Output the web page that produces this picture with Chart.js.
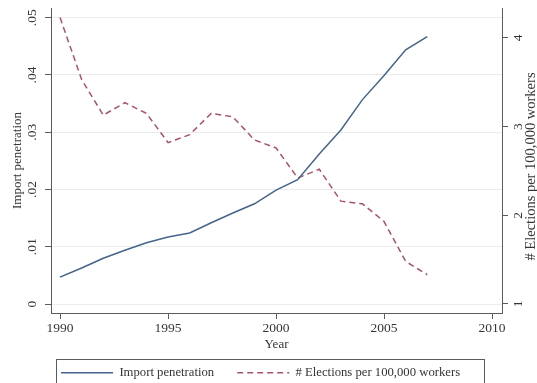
<!DOCTYPE html>
<html>
<head>
<meta charset="utf-8">
<script src="https://cdn.jsdelivr.net/npm/chart.js@4/dist/chart.umd.min.js"></script>
<style>
  html, body { margin: 0; padding: 0; background: #ffffff; }
  canvas { display: block; }
</style>
</head>
<body>
<canvas id="chart" width="537" height="383" style="width:537px;height:383px"></canvas>
<script>
// Annual series, 1990-2007
const years = [1990, 1991, 1992, 1993, 1994, 1995, 1996, 1997, 1998, 1999,
               2000, 2001, 2002, 2003, 2004, 2005, 2006, 2007];
const importPenetration = [0.0047, 0.0063, 0.0080, 0.0094, 0.0107, 0.0117, 0.0124, 0.0142, 0.0159,
                           0.0175, 0.0199, 0.0217, 0.0262, 0.0304, 0.0357, 0.0399, 0.0444, 0.0467];
const electionsPer100k = [4.23, 3.53, 3.13, 3.27, 3.15, 2.82, 2.91, 3.15, 3.11,
                          2.85, 2.76, 2.42, 2.52, 2.16, 2.13, 1.93, 1.48, 1.33];

// Axis ticks
const yearTicks = [1990, 1995, 2000, 2005, 2010];
const importTicks = [0, 0.01, 0.02, 0.03, 0.04, 0.05];
const electionTicks = [1, 2, 3, 4];

const SERIF = "'Liberation Serif', 'DejaVu Serif', serif";
const AXIS = '#5c5c5c';
const TEXT = '#353535';
const BLUE = '#44648a';
const RED = '#a85467';

const toPoints = (vals) => years.map((yr, i) => ({ x: yr, y: vals[i] }));
const fixedTicks = (list) => (scale) => { scale.ticks = list.map(v => ({ value: v })); };
// fixed box size, no extra room reserved for edge labels
const fixSize = (dim, size) => (s) => {
  s[dim] = size;
  s.paddingTop = 0; s.paddingBottom = 0; s.paddingLeft = 0; s.paddingRight = 0;
};

// Right-hand axis title, reading bottom to top
const rightTitle = {
  id: 'rightTitle',
  afterDraw(chart) {
    const { ctx, chartArea } = chart;
    ctx.save();
    ctx.translate(531, (chartArea.top + chartArea.bottom) / 2 + 6);
    ctx.rotate(-Math.PI / 2);
    ctx.font = `14.5px ${SERIF}`;
    ctx.fillStyle = TEXT;
    ctx.textAlign = 'center';
    ctx.textBaseline = 'middle';
    ctx.fillText('# Elections per 100,000 workers', 0, 0);
    ctx.restore();
  }
};

// Frame around the legend entries
const legendFrame = {
  id: 'legendFrame',
  afterDraw(chart) {
    const lg = chart.legend;
    if (!lg || !lg.legendHitBoxes || !lg.legendHitBoxes.length) return;
    const left = Math.round(lg.legendHitBoxes[0].left - 5) + 0.5;
    const top = Math.round(lg.top - 3) + 0.5;
    const ctx = chart.ctx;
    ctx.save();
    ctx.strokeStyle = AXIS;
    ctx.lineWidth = 1;
    ctx.strokeRect(left, top, 428, 40);
    ctx.restore();
  }
};

new Chart(document.getElementById('chart'), {
  type: 'line',
  data: {
    datasets: [
      {
        label: 'Import penetration',
        data: toPoints(importPenetration),
        yAxisID: 'y',
        borderColor: BLUE,
        backgroundColor: BLUE,
        borderWidth: 1.5,
        pointRadius: 0,
        tension: 0
      },
      {
        label: '# Elections per 100,000 workers',
        data: toPoints(electionsPer100k),
        yAxisID: 'y2',
        borderColor: RED,
        backgroundColor: RED,
        borderWidth: 1.5,
        borderDash: [6, 4],
        pointRadius: 0,
        tension: 0
      }
    ]
  },
  options: {
    responsive: false,
    animation: false,
    devicePixelRatio: 1,
    layout: { padding: { top: 8, left: 0, right: 0, bottom: -6 } },
    scales: {
      x: {
        type: 'linear',
        min: 1989.58,
        max: 2010.46,
        afterBuildTicks: fixedTicks(yearTicks),
        afterFit: fixSize('height', 49.3),
        grid: { drawOnChartArea: false, drawTicks: true, tickLength: 6, tickColor: AXIS },
        border: { display: true, color: AXIS, width: 1 },
        ticks: {
          color: TEXT,
          font: { family: SERIF, size: 13.5 },
          padding: 1.5,
          maxRotation: 0,
          callback: (v) => String(v)
        },
        title: {
          display: true,
          text: 'Year',
          color: TEXT,
          font: { family: SERIF, size: 13 },
          padding: { top: 0, bottom: 10 }
        }
      },
      y: {
        position: 'left',
        min: -0.00157,
        max: 0.0517,
        afterBuildTicks: fixedTicks(importTicks),
        afterFit: fixSize('width', 51),
        grid: { color: '#ebebeb', lineWidth: 1, drawTicks: true, tickLength: 6, tickColor: AXIS },
        border: { display: true, color: AXIS, width: 1 },
        ticks: {
          color: TEXT,
          font: { family: SERIF, size: 13.5 },
          minRotation: 90,
          maxRotation: 90,
          crossAlign: 'center',
          padding: 4,
          callback: (v) => v === 0 ? '0' : String(+v.toFixed(2)).replace(/^0/, '')
        },
        title: {
          display: true,
          text: 'Import penetration',
          color: TEXT,
          font: { family: SERIF, size: 13 },
          padding: 10
        }
      },
      y2: {
        position: 'right',
        min: 0.8985,
        max: 4.338,
        afterBuildTicks: fixedTicks(electionTicks),
        afterFit: fixSize('width', 35),
        grid: { drawOnChartArea: false, drawTicks: true, tickLength: 6, tickColor: AXIS },
        border: { display: true, color: AXIS, width: 1 },
        ticks: {
          color: TEXT,
          font: { family: SERIF, size: 13.5 },
          minRotation: 90,
          maxRotation: 90,
          crossAlign: 'center',
          padding: 7,
          callback: (v) => String(v)
        },
        title: { display: false }
      }
    },
    plugins: {
      tooltip: { enabled: false },
      legend: {
        position: 'bottom',
        labels: {
          usePointStyle: true,
          pointStyle: 'line',
          pointStyleWidth: 52,
          padding: 4,
          color: TEXT,
          font: { family: SERIF, size: 12.7 },
          generateLabels(chart) {
            const items = Chart.defaults.plugins.legend.labels.generateLabels(chart);
            items.forEach((item, i) => {
              const ds = chart.data.datasets[i];
              item.strokeStyle = ds.borderColor;
              item.lineWidth = ds.borderWidth;
              item.lineDash = ds.borderDash || [];
            });
            // spacing between and after the entries
            items[0].text += '      ';
            items[1].text += '     ';
            return items;
          }
        }
      }
    }
  },
  plugins: [rightTitle, legendFrame]
});
</script>
</body>
</html>
